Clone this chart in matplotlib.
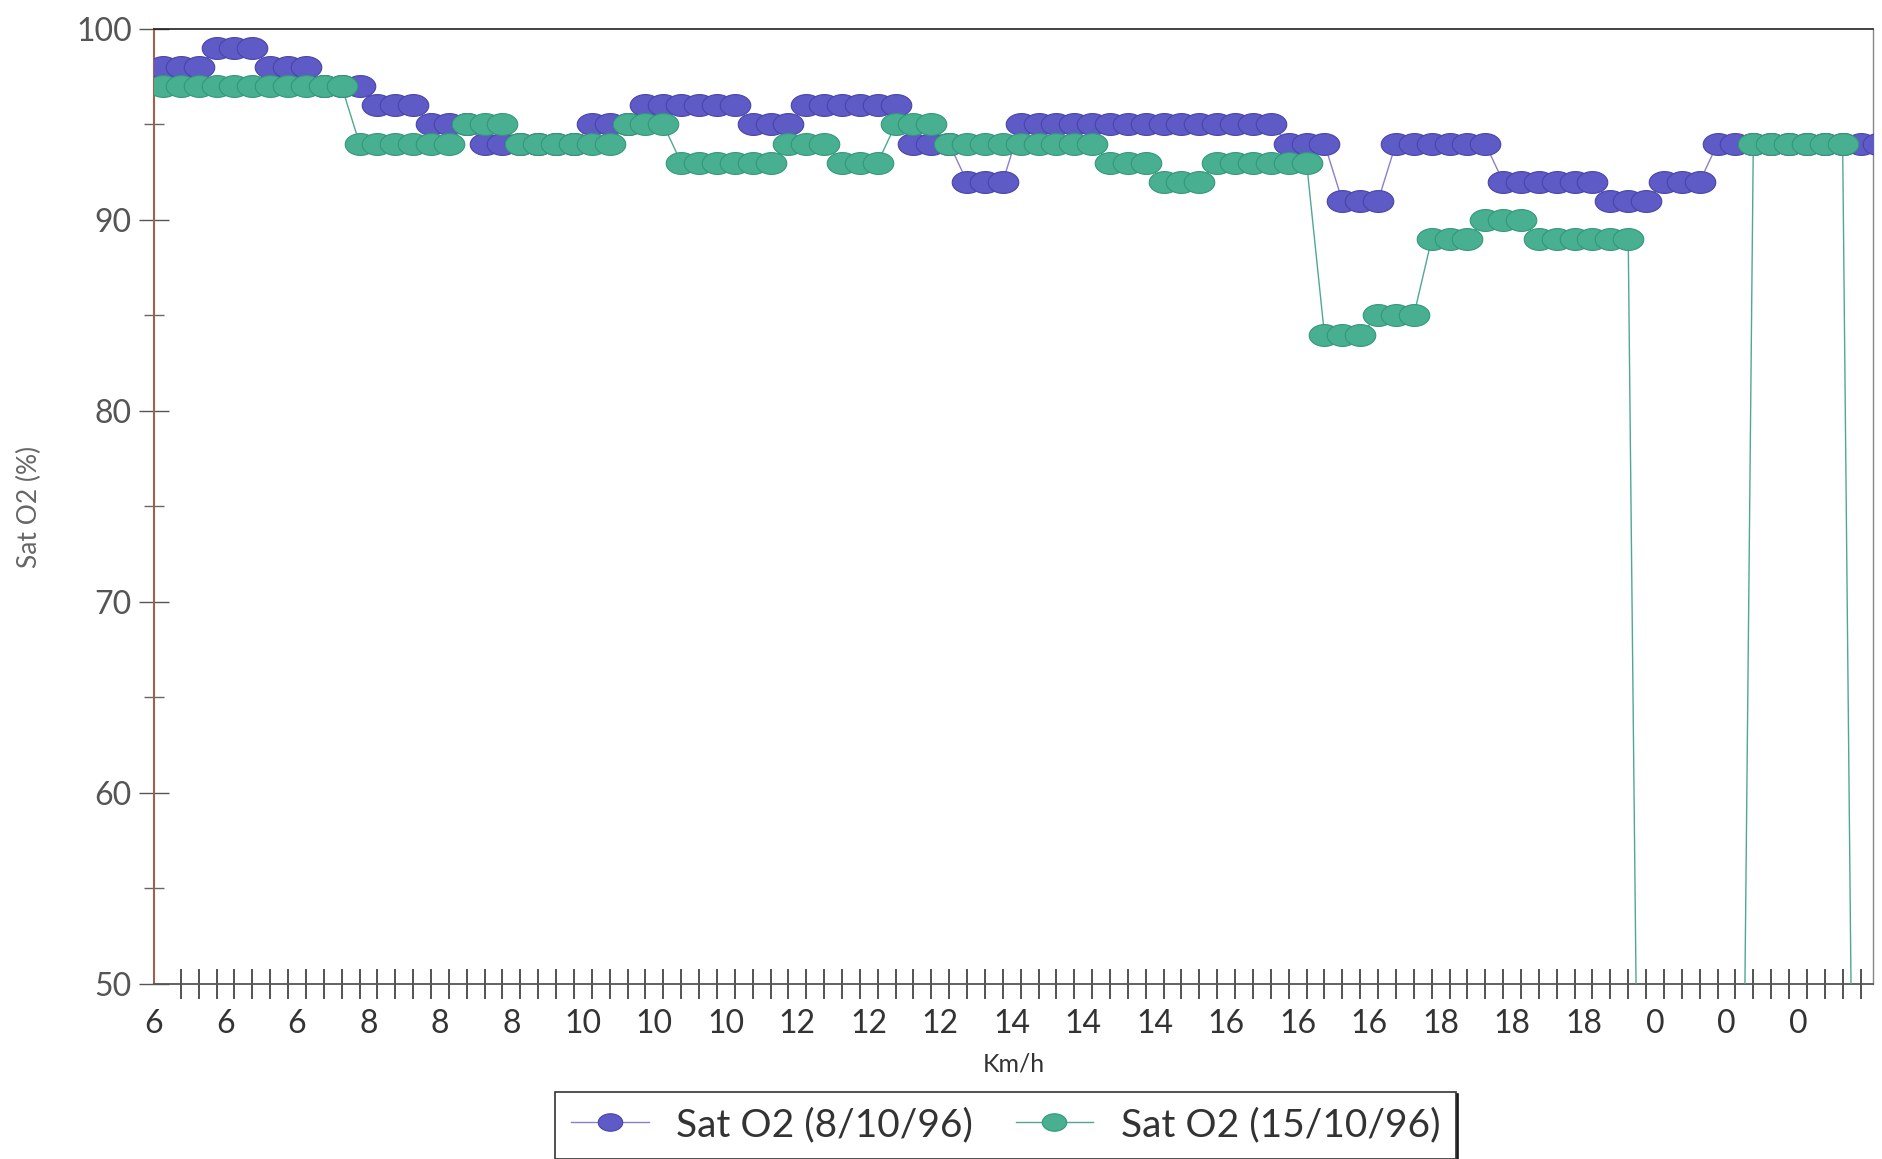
import numpy as np
import matplotlib
matplotlib.use("Agg")
import matplotlib.pyplot as plt
from matplotlib.path import Path
from matplotlib.ticker import FixedLocator, MultipleLocator

# etiquetas do eixo x (Km/h), uma a cada 4 amostras
speed_labels = ["6", "6", "6", "8", "8", "8", "10", "10", "10", "12", "12", "12",
                "14", "14", "14", "16", "16", "16", "18", "18", "18", "0", "0", "0"]

# Sat O2 (%) em cada amostra - 8/10/96
sat_o2_8_10 = [98, 98, 98, 99, 99, 99, 98, 98, 98, 97, 97, 97,
               96, 96, 96, 95, 95, 95, 94, 94, 94, 94, 94, 94,
               95, 95, 95, 96, 96, 96, 96, 96, 96, 95, 95, 95,
               96, 96, 96, 96, 96, 96, 94, 94, 94, 92, 92, 92,
               95, 95, 95, 95, 95, 95, 95, 95, 95, 95, 95, 95,
               95, 95, 95, 94, 94, 94, 91, 91, 91, 94, 94, 94,
               94, 94, 94, 92, 92, 92, 92, 92, 92, 91, 91, 91,
               92, 92, 92, 94, 94, 94, 94, 94, 94, 94, 94, 94,
               94]

# Sat O2 (%) em cada amostra - 15/10/96 (0 = sem leitura)
sat_o2_15_10 = [97, 97, 97, 97, 97, 97, 97, 97, 97, 97, 97, 94,
                94, 94, 94, 94, 94, 95, 95, 95, 94, 94, 94, 94,
                94, 94, 95, 95, 95, 93, 93, 93, 93, 93, 93, 94,
                94, 94, 93, 93, 93, 95, 95, 95, 94, 94, 94, 94,
                94, 94, 94, 94, 94, 93, 93, 93, 92, 92, 92, 93,
                93, 93, 93, 93, 93, 84, 84, 84, 85, 85, 85, 89,
                89, 89, 90, 90, 90, 89, 89, 89, 89, 89, 89, 0,
                0, 0, 0, 0, 0, 94, 94, 94, 94, 94, 94, 0,
                0]

series_names = ["Sat O2 (8/10/96)", "Sat O2 (15/10/96)"]

plt.rcParams["font.family"] = ["Lato", "DejaVu Sans"]

# marcador eliptico (mais largo que alto)
t = np.linspace(0, 2 * np.pi, 60)
ellipse = Path(np.column_stack([1.4 * np.cos(t), np.sin(t)]), closed=True)

fig = plt.figure(figsize=(18.83, 11.59), dpi=100)
ax = fig.add_axes([0.0818, 0.151, 0.9129, 0.824])

x = np.arange(len(sat_o2_8_10))

ax.plot(x, sat_o2_8_10, color="#8a80c8", lw=1.0, marker=ellipse, markersize=22,
        markerfacecolor="#5f5bc6", markeredgecolor="#4844aa", markeredgewidth=0.8,
        label=series_names[0], zorder=3)
ax.plot(x, sat_o2_15_10, color="#4fa892", lw=1.0, marker=ellipse, markersize=22,
        markerfacecolor="#48b091", markeredgecolor="#33977a", markeredgewidth=0.8,
        label=series_names[1], zorder=4)

ax.set_xlim(-0.5, 95.7)
ax.set_ylim(50, 100)

# eixo x: rotulos a cada 4 amostras, tracos em cada amostra
label_pos = np.arange(len(speed_labels)) * 4 - 0.5
ax.xaxis.set_major_locator(FixedLocator(label_pos))
ax.set_xticklabels(speed_labels)
ax.xaxis.set_minor_locator(FixedLocator(x[1:]))
ax.tick_params(axis="x", which="major", length=0, pad=18, labelsize=23,
               labelcolor="#333333")
ax.tick_params(axis="x", which="minor", direction="inout", length=21,
               width=1.3, color="#444444")

# eixo y
ax.yaxis.set_major_locator(MultipleLocator(10))
ax.yaxis.set_minor_locator(MultipleLocator(5))
ax.tick_params(axis="y", which="major", direction="inout", length=22, width=1.0,
               color="#555555", pad=5, labelsize=23, labelcolor="#555555")
ax.tick_params(axis="y", which="minor", direction="inout", length=14, width=1.0,
               color="#666666")

ax.set_xlabel("Km/h", fontsize=18, color="#333333", labelpad=10)
ax.set_ylabel("Sat O2 (%)", fontsize=19, color="#666666")
ax.yaxis.set_label_coords(-0.065, 0.5)

ax.spines["left"].set_color("#a0604f")
ax.spines["left"].set_linewidth(1.5)
ax.spines["bottom"].set_color("#555555")
ax.spines["bottom"].set_linewidth(1.3)
ax.spines["top"].set_color("#222222")
ax.spines["top"].set_linewidth(1.2)
ax.spines["right"].set_color("#888888")
ax.spines["right"].set_linewidth(1.0)

leg = fig.legend(loc="upper center", bbox_to_anchor=(0.534, 0.075), ncol=2,
                 fontsize=28, frameon=True, fancybox=False, markerscale=0.8,
                 handlelength=2.0, handletextpad=0.7, columnspacing=1.1,
                 borderpad=0.4, shadow={"color": "#1a1a1a", "alpha": 1.0})
leg.get_frame().set_edgecolor("#333333")
leg.get_frame().set_linewidth(1.2)
for txt in leg.get_texts():
    txt.set_color("#333333")

fig.savefig("out.png", dpi=100)
